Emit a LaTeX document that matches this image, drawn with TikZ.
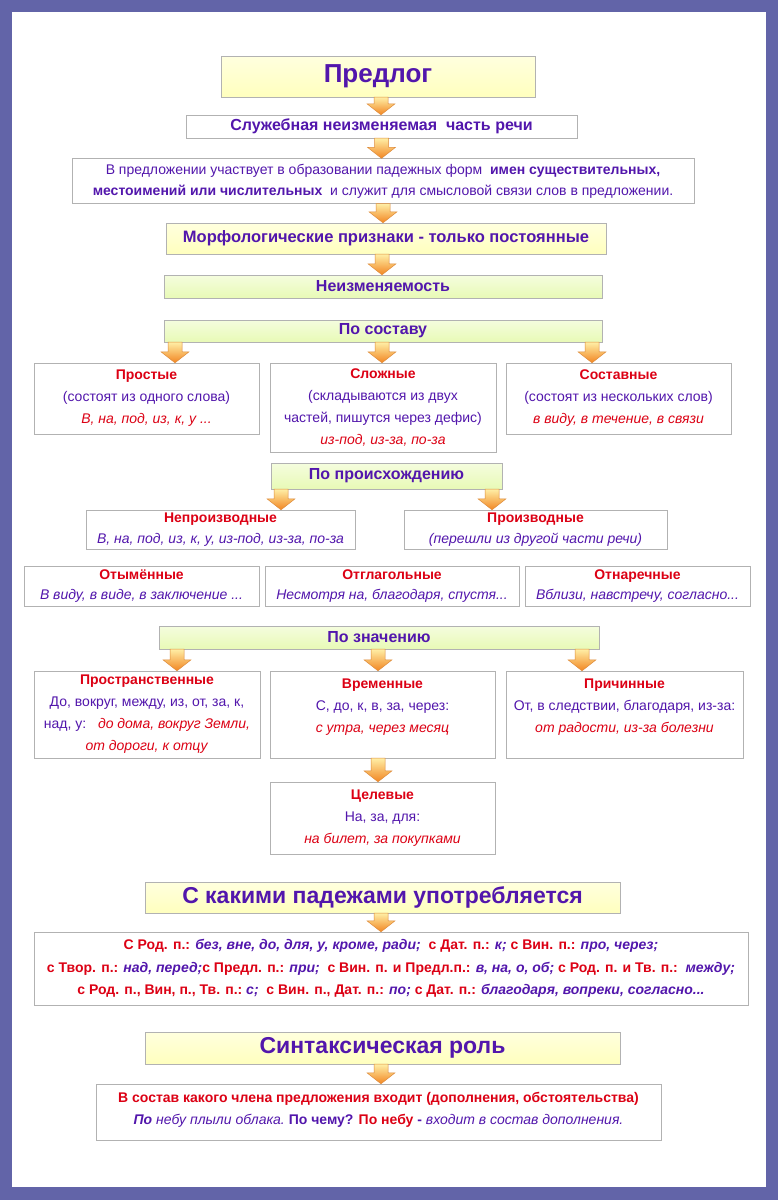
\documentclass[tikz,border=0pt]{standalone}
\usepackage{fontspec}
\setmainfont{Liberation Sans}
\usetikzlibrary{calc}

\definecolor{rahmen}{RGB}{98,100,168}
\definecolor{lila}{RGB}{82,22,172}
\definecolor{rot}{RGB}{220,0,20}
\definecolor{gelb}{RGB}{255,255,190}
\definecolor{gruen}{RGB}{232,250,182}
\definecolor{pfeiloben}{RGB}{255,238,165}
\definecolor{pfeilunten}{RGB}{242,134,34}
\definecolor{pfeilrand}{RGB}{222,140,60}

\newcommand{\kopf}[1]{\textcolor{rot}{\textbf{#1}}}
\newcommand{\bsp}[1]{\textcolor{rot}{\textit{#1}}}
\newcommand{\rt}[1]{\textcolor{rot}{#1}}
% Blockpfeil von Kasten #2 nach Kasten #3, um #1 verschoben
\newcommand{\pfeil}[3][0]{%
  \coordinate (p1) at ($(#2.south)+(#1,0)$);
  \coordinate (p2) at (p1 |- #3.north);
  \shade[pfeilform] let \p1=(p1), \p2=(p2) in
    (\x1-7pt,\y1) -- (\x1+7pt,\y1) -- (\x1+7pt,\y2+11pt) -- (\x1+14pt,\y2+11pt)
    -- (\x1,\y2) -- (\x1-14pt,\y2+11pt) -- (\x1-7pt,\y2+11pt) -- cycle;}

\begin{document}
\begin{tikzpicture}[x=1pt,y=-1pt,
  kasten/.style={draw=gray!60, fill=white, inner sep=0pt, align=center, text=lila,
    font=\fontsize{14}{22}\selectfont},
  gelbkasten/.style={kasten, top color=gelb!50!white, bottom color=gelb},
  gruenkasten/.style={kasten, top color=gruen!45!white, bottom color=gruen,
    font=\bfseries\fontsize{16}{20}\selectfont},
  pfeilform/.style={draw=pfeilrand, line width=0.5pt, top color=pfeiloben, bottom color=pfeilunten}]
% Rahmen
\fill[rahmen] (0,0) rectangle (778,1200);
\fill[white] (12,12) rectangle (766,1187);

% Kopf
\node[gelbkasten, minimum width=314pt, minimum height=41pt, font=\bfseries\fontsize{26}{28}\selectfont] (praedlog) at (378,76.5) {Предлог};
\node[kasten, minimum width=391pt, minimum height=23pt, font=\bfseries\fontsize{16}{20}\selectfont] (sluzh) at (381.5,126.5) {Служебная неизменяемая\ \ часть речи};
\node[kasten, minimum width=622pt, minimum height=45pt, font=\fontsize{14}{21}\selectfont] (rolle) at (383,181)
  {В предложении участвует в образовании падежных форм\ \ \textbf{имен существительных,}\\
   \textbf{местоимений или числительных}\ \ и служит для смысловой связи слов в предложении.};
\node[gelbkasten, minimum width=440pt, minimum height=31pt, font=\bfseries\fontsize{16.5}{20}\selectfont] (morph) at (386,238.5) {Морфологические признаки - только постоянные};
\node[gruenkasten, minimum width=438pt, minimum height=23pt] (neizm) at (383,286.5) {Неизменяемость};

% Nach Bestand
\node[gruenkasten, minimum width=438pt, minimum height=22pt] (sostav) at (383,331) {По составу};
\node[kasten, minimum width=225pt, minimum height=71pt] (prostye) at (146.5,398.5)
  {\kopf{Простые}\\(состоят из одного слова)\\\bsp{В, на, под, из, к, у ...}};
\node[kasten, minimum width=226pt, minimum height=89pt] (slozhnye) at (383,407.5)
  {\kopf{Сложные}\\(складываются из двух\\частей, пишутся через дефис)\\\bsp{из-под, из-за, по-за}};
\node[kasten, minimum width=225pt, minimum height=71pt] (sostavnye) at (618.5,398.5)
  {\kopf{Составные}\\(состоят из нескольких слов)\\\bsp{в виду, в течение, в связи}};

% Nach Herkunft
\node[gruenkasten, minimum width=231pt, minimum height=26pt] (proisch) at (386.5,476) {По происхождению};
\node[kasten, minimum width=269pt, minimum height=39pt, font=\fontsize{14}{20.5}\selectfont] (neproizv) at (220.5,529.5)
  {\kopf{Непроизводные}\\\textit{В, на, под, из, к, у, из-под, из-за, по-за}};
\node[kasten, minimum width=263pt, minimum height=39pt, font=\fontsize{14}{20.5}\selectfont] (proizv) at (535.5,529.5)
  {\kopf{Производные}\\\textit{(перешли из другой части речи)}};
\node[kasten, minimum width=235pt, minimum height=40pt, font=\fontsize{14}{20.5}\selectfont] (otym) at (141.5,586)
  {\kopf{Отымённые}\\\textit{В виду, в виде, в заключение ...}};
\node[kasten, minimum width=254pt, minimum height=40pt, font=\fontsize{14}{20.5}\selectfont] (otglag) at (392,586)
  {\kopf{Отглагольные}\\\textit{Несмотря на, благодаря, спустя...}};
\node[kasten, minimum width=225pt, minimum height=40pt, font=\fontsize{14}{20.5}\selectfont] (otnar) at (637.5,586)
  {\kopf{Отнаречные}\\\textit{Вблизи, навстречу, согласно...}};

% Nach Bedeutung
\node[gruenkasten, minimum width=440pt, minimum height=23pt] (znach) at (379,637.5) {По значению};
\node[kasten, minimum width=226pt, minimum height=87pt] (prostr) at (147,714.5)
  {\kopf{Пространственные}\\До, вокруг, между, из, от, за, к,\\над, у:\ \ \ \bsp{до дома, вокруг Земли,}\\\bsp{от дороги, к отцу}};
\node[kasten, minimum width=225pt, minimum height=87pt] (vrem) at (382.5,714.5)
  {\kopf{Временные}\\С, до, к, в, за, через:\\\bsp{с утра, через месяц}\\[-5pt]~};
\node[kasten, minimum width=237pt, minimum height=87pt] (prich) at (624.5,714.5)
  {\kopf{Причинные}\\От, в следствии, благодаря, из-за:\\\bsp{от радости, из-за болезни}\\[-5pt]~};
\node[kasten, minimum width=225pt, minimum height=72pt] (celev) at (382.5,818)
  {\kopf{Целевые}\\На, за, для:\\\bsp{на билет, за покупками}};

% Padezhi
\node[gelbkasten, minimum width=475pt, minimum height=31pt, font=\bfseries\fontsize{23}{26}\selectfont] (padezh) at (382.5,897.5) {С какими падежами употребляется};
\node[kasten, minimum width=714pt, minimum height=73pt, font=\bfseries\fontsize{14}{22.5}\selectfont] (faelle) at (391,968.5)
  {\rt{С Род. п.:} \textit{без, вне, до, для, у, кроме, ради;}\ \ \rt{с Дат. п.:} \textit{к;} \rt{с Вин. п.:} \textit{про, через;}\\
   \rt{с Твор. п.:} \textit{над, перед;}\rt{с Предл. п.:} \textit{при;}\ \ \rt{с Вин. п. и Предл.п.:} \textit{в, на, о, об;} \rt{с Род. п. и Тв. п.:}\ \ \textit{между;}\\
   \rt{с Род. п., Вин, п., Тв. п.:}\ \textit{с;}\ \ \rt{с Вин. п., Дат. п.:} \textit{по;} \rt{с Дат. п.:} \textit{благодаря, вопреки, согласно...}};

% Syntax
\node[gelbkasten, minimum width=475pt, minimum height=32pt, font=\bfseries\fontsize{23}{26}\selectfont] (syntax) at (382.5,1048) {Синтаксическая роль};
\node[kasten, minimum width=565pt, minimum height=56pt] (satzglied) at (378.5,1112)
  {\kopf{В состав какого члена предложения входит (дополнения, обстоятельства)}\\
   \textbf{\textit{По}} \textit{небу плыли облака.}\ \textbf{По чему?} \kopf{По небу} \textbf{-} \textit{входит в состав дополнения.}\\[-14pt]~};

% Pfeile
\pfeil[3]{praedlog}{sluzh}
\pfeil{sluzh}{rolle}
\pfeil{rolle}{morph}
\pfeil[-4]{morph}{neizm}
\pfeil[-208]{sostav}{prostye}
\pfeil[-1]{sostav}{slozhnye}
\pfeil[209]{sostav}{sostavnye}
\pfeil[-105.5]{proisch}{neproizv}
\pfeil[105.5]{proisch}{proizv}
\pfeil[-202]{znach}{prostr}
\pfeil[-1]{znach}{vrem}
\pfeil[203]{znach}{prich}
\pfeil[-4.5]{vrem}{celev}
\pfeil[-1.5]{padezh}{faelle}
\pfeil[-1.5]{syntax}{satzglied}
\end{tikzpicture}
\end{document}
